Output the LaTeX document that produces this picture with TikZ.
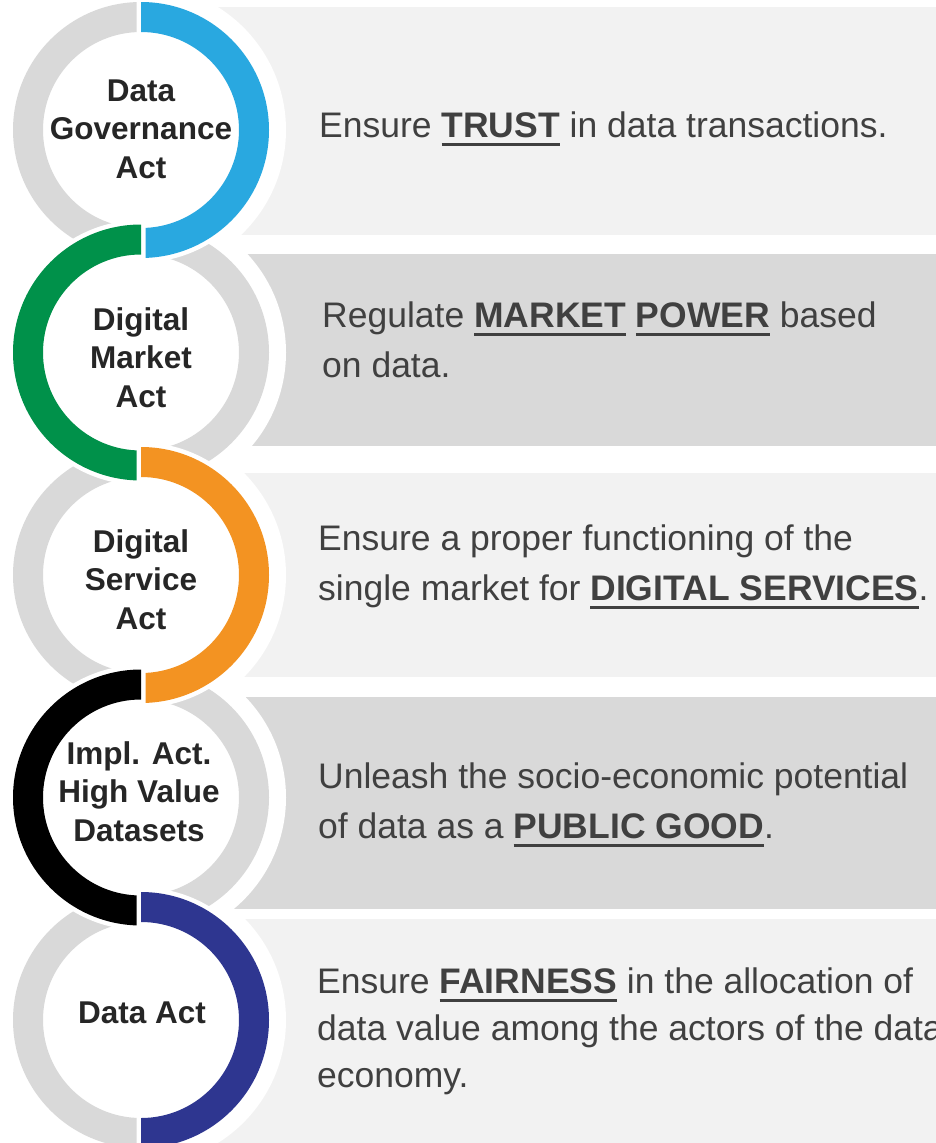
\documentclass[tikz,border=0pt]{standalone}
\usepackage{fontspec}
\setmainfont{Liberation Sans}
\definecolor{ringgray}{HTML}{D9D9D9}
\definecolor{bandlight}{HTML}{F2F2F2}
\definecolor{banddark}{HTML}{D9D9D9}
\definecolor{cA}{HTML}{29A8E0}
\definecolor{cB}{HTML}{00914A}
\definecolor{cC}{HTML}{F39322}
\definecolor{cD}{HTML}{000000}
\definecolor{cE}{HTML}{2E3690}
\definecolor{labelc}{HTML}{262626}
\definecolor{descc}{HTML}{404040}
\newcommand\kw[1]{\setbox0\hbox{\bfseries #1}\rlap{\rule[-8.5pt]{\wd0}{3pt}}\box0\relax}
\tikzset{
  halo/.style={fill=white},
  ringbg/.style={fill=ringgray, even odd rule},
  hring/.style={fill=#1, preaction={draw=white, line width=9pt}},
  lbl/.style={font=\fontsize{31.5}{38.5}\selectfont\bfseries, text=labelc, align=center, anchor=base, inner sep=0pt},
  desc/.style={font=\fontsize{35.5}{50}\selectfont, text=descc, align=left, anchor=base west, inner sep=0pt},
}
\begin{document}
\begin{tikzpicture}[x=1pt, y=-1pt]
\fill[white] (0,0) rectangle (936,1143);
\useasboundingbox (0,0) rectangle (936,1143);
% bands
\fill[bandlight] (141,7) rectangle (940,235);
\fill[banddark] (141,254) rectangle (940,446);
\fill[bandlight] (141,473) rectangle (940,677);
\fill[banddark] (141,697) rectangle (940,909);
\fill[bandlight] (141,919) rectangle (940,1160);
% centres
\coordinate (c1) at (141,130);
\coordinate (c2) at (141,352.5);
\coordinate (c3) at (141,575);
\coordinate (c4) at (141,797.5);
\coordinate (c5) at (141,1020);
% halos
\foreach \c in {c1,c2,c3,c4,c5} {\fill[halo] (\c) circle[radius=145];}
% gray rings
\foreach \c in {c1,c2,c3,c4,c5} {\fill[ringbg] (\c) circle[radius=128] (\c) circle[radius=98];}
% coloured halves
\fill[hring=cA] (c1) ++(-90:128) arc[start angle=-90,end angle=90,radius=128] -- ++(0,-30) arc[start angle=90,end angle=-90,radius=98] -- cycle;
\fill[hring=cB] (c2) ++(90:128) arc[start angle=90,end angle=270,radius=128] -- ++(0,30) arc[start angle=270,end angle=90,radius=98] -- cycle;
\fill[hring=cC] (c3) ++(-90:128) arc[start angle=-90,end angle=90,radius=128] -- ++(0,-30) arc[start angle=90,end angle=-90,radius=98] -- cycle;
\fill[hring=cD] (c4) ++(90:128) arc[start angle=90,end angle=270,radius=128] -- ++(0,30) arc[start angle=270,end angle=90,radius=98] -- cycle;
\fill[hring=cE] (c5) ++(-90:128) arc[start angle=-90,end angle=90,radius=128] -- ++(0,-30) arc[start angle=90,end angle=-90,radius=98] -- cycle;
% labels (anchor = baseline of last line)
\node[lbl] (l1) at (141,178) {Data\\Governance\\Act};
\node[lbl] (l2) at (141,407) {Digital\\Market\\Act};
\node[lbl] (l3) at (141,629) {Digital\\Service\\Act};
\node[lbl] (l4) at (139,841) {Impl. Act.\\High Value\\Datasets};
\node[lbl] (l5) at (142,1023) {Data Act};
% descriptions (anchor = baseline of last line)
\node[desc] (d1) at (319,137) {Ensure \kw{TRUST} in data transactions.};
\node[desc] (d2) at (322,377) {Regulate \kw{MARKET} \kw{POWER} based\\on data.};
\node[desc] (d3) at (318,600) {Ensure a proper functioning of the\\single market for \kw{DIGITAL SERVICES}.};
\node[desc] (d4) at (318,838) {Unleash the socio-economic potential\\of data as a \kw{PUBLIC GOOD}.};
\node[desc, font=\fontsize{35.5}{47}\selectfont] (d5) at (317,1087) {Ensure \kw{FAIRNESS} in the allocation of\\data value among the actors of the data\\economy.};
\end{tikzpicture}
\end{document}
